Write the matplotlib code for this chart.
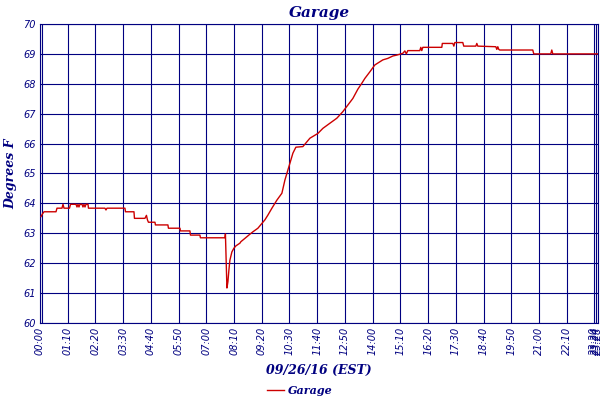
import numpy as np
import matplotlib.pyplot as plt

# minutes since midnight, 09/26/16
minutes = [2.5, 6.3, 10.1, 40.4, 42.9, 55.5, 58.1, 60.6, 74.5, 77, 90.9, 93.4, 95.9, 98.4,
           101, 106, 108.5, 111, 113.6, 116.1, 121.2, 122.4, 164, 166.6, 169.1, 214.5,
           215.8, 237.3, 238.5, 265, 268.8, 271.3, 273.8, 290.3, 291.5, 323, 324.3,
           353.4, 354.6, 378.6, 379.9, 403.8, 405.1, 467, 468.2, 472, 474.5, 477, 479.5,
           484.6, 489.6, 494.7, 504.8, 507.3, 517.4, 530, 537.6, 550.2, 560.3, 567.9,
           575.5, 585.6, 598.2, 610.8, 618.4, 626, 631, 638.6, 646.1, 663.8, 681.5,
           701.7, 714.3, 731.9, 749.6, 764.8, 777.4, 790, 802.6, 812.7, 820.3, 832.9,
           845.5, 865.7, 878.3, 891, 901, 916.2, 921.3, 925, 928.8, 959, 961.6, 964,
           966.7, 1014.6, 1015.9, 1042.4, 1045, 1047.5, 1067.6, 1070, 1100.5, 1103,
           1105.5, 1151, 1153.5, 1156, 1158.5, 1161, 1244.3, 1246.8, 1289.7, 1292.3,
           1294.8, 1408.4]
temps = [63.56, 63.65, 63.72, 63.72, 63.84, 63.84, 63.97, 63.84, 63.84, 63.97, 63.97, 63.88,
         63.97, 63.88, 63.97, 63.97, 63.88, 63.97, 63.88, 63.97, 63.97, 63.84, 63.84,
         63.78, 63.84, 63.84, 63.72, 63.72, 63.5, 63.5, 63.6, 63.45, 63.37, 63.37,
         63.28, 63.28, 63.17, 63.17, 63.08, 63.08, 62.94, 62.94, 62.85, 62.85, 62.98,
         61.17, 61.38, 61.77, 62.1, 62.38, 62.5, 62.58, 62.67, 62.72, 62.83, 62.97,
         63.05, 63.17, 63.33, 63.45, 63.61, 63.84, 64.11, 64.34, 64.78, 65.12, 65.34,
         65.68, 65.88, 65.9, 66.18, 66.34, 66.51, 66.68, 66.85, 67.07, 67.29, 67.51,
         67.82, 68.02, 68.18, 68.4, 68.63, 68.8, 68.85, 68.93, 68.96, 69.02, 69.1,
         69.0, 69.11, 69.11, 69.22, 69.11, 69.22, 69.22, 69.35, 69.35, 69.26, 69.38,
         69.38, 69.26, 69.26, 69.35, 69.26, 69.24, 69.15, 69.24, 69.15, 69.13, 69.13,
         69.0, 69.0, 69.13, 69.0, 69.0]

tick_min = [0, 70, 140, 210, 280, 350, 420, 490, 560, 630, 700, 770, 840, 910, 980,
            1050, 1120, 1190, 1260, 1330, 1400, 1404, 1408]
tick_lbl = ["00:00", "01:10", "02:20", "03:30", "04:40", "05:50", "07:00", "08:10",
            "09:20", "10:30", "11:40", "12:50", "14:00", "15:10", "16:20", "17:30",
            "18:40", "19:50", "21:00", "22:10", "23:20", "23:24", "23:28"]

navy = "#000080"
red = "#CC0000"

fig = plt.figure(figsize=(6, 4), dpi=100)
ax = fig.add_axes([40/600, 77/400, 558/600, 299/400])

ax.plot(minutes, temps, color=red, lw=1.0, label="Garage", zorder=3)

ax.set_xlim(0, 1409)
ax.set_ylim(60, 70)
ax.set_yticks(np.arange(60, 71, 1))
ax.set_xticks(tick_min)
ax.set_xticklabels(tick_lbl, rotation=90, va="top")
ax.grid(True, color=navy, lw=0.8)
ax.axvline(4, color=navy, lw=0.8)
ax.tick_params(length=0, colors=navy, labelsize=7, pad=3)
for lbl in ax.get_xticklabels() + ax.get_yticklabels():
    lbl.set_fontstyle("italic")
for s in ax.spines.values():
    s.set_color(navy)
    s.set_linewidth(0.8)

ax.set_title("Garage", color=navy, fontsize=11, fontweight="bold", style="italic",
             family="DejaVu Serif", pad=5)
ax.set_ylabel("Degrees F", color=navy, fontsize=9, fontweight="bold", style="italic",
              family="DejaVu Serif", labelpad=4)
ax.set_xlabel("09/26/16 (EST)", color=navy, fontsize=9, fontweight="bold", style="italic",
              family="DejaVu Serif", labelpad=6)

leg = fig.legend(loc="center", bbox_to_anchor=(300/600, 1 - 390/400), frameon=False,
                 handlelength=1.5, handletextpad=0.4,
                 prop={"family": "DejaVu Serif", "weight": "bold", "style": "italic", "size": 8})
for t in leg.get_texts():
    t.set_color(navy)

fig.savefig("out.png", dpi=100)
